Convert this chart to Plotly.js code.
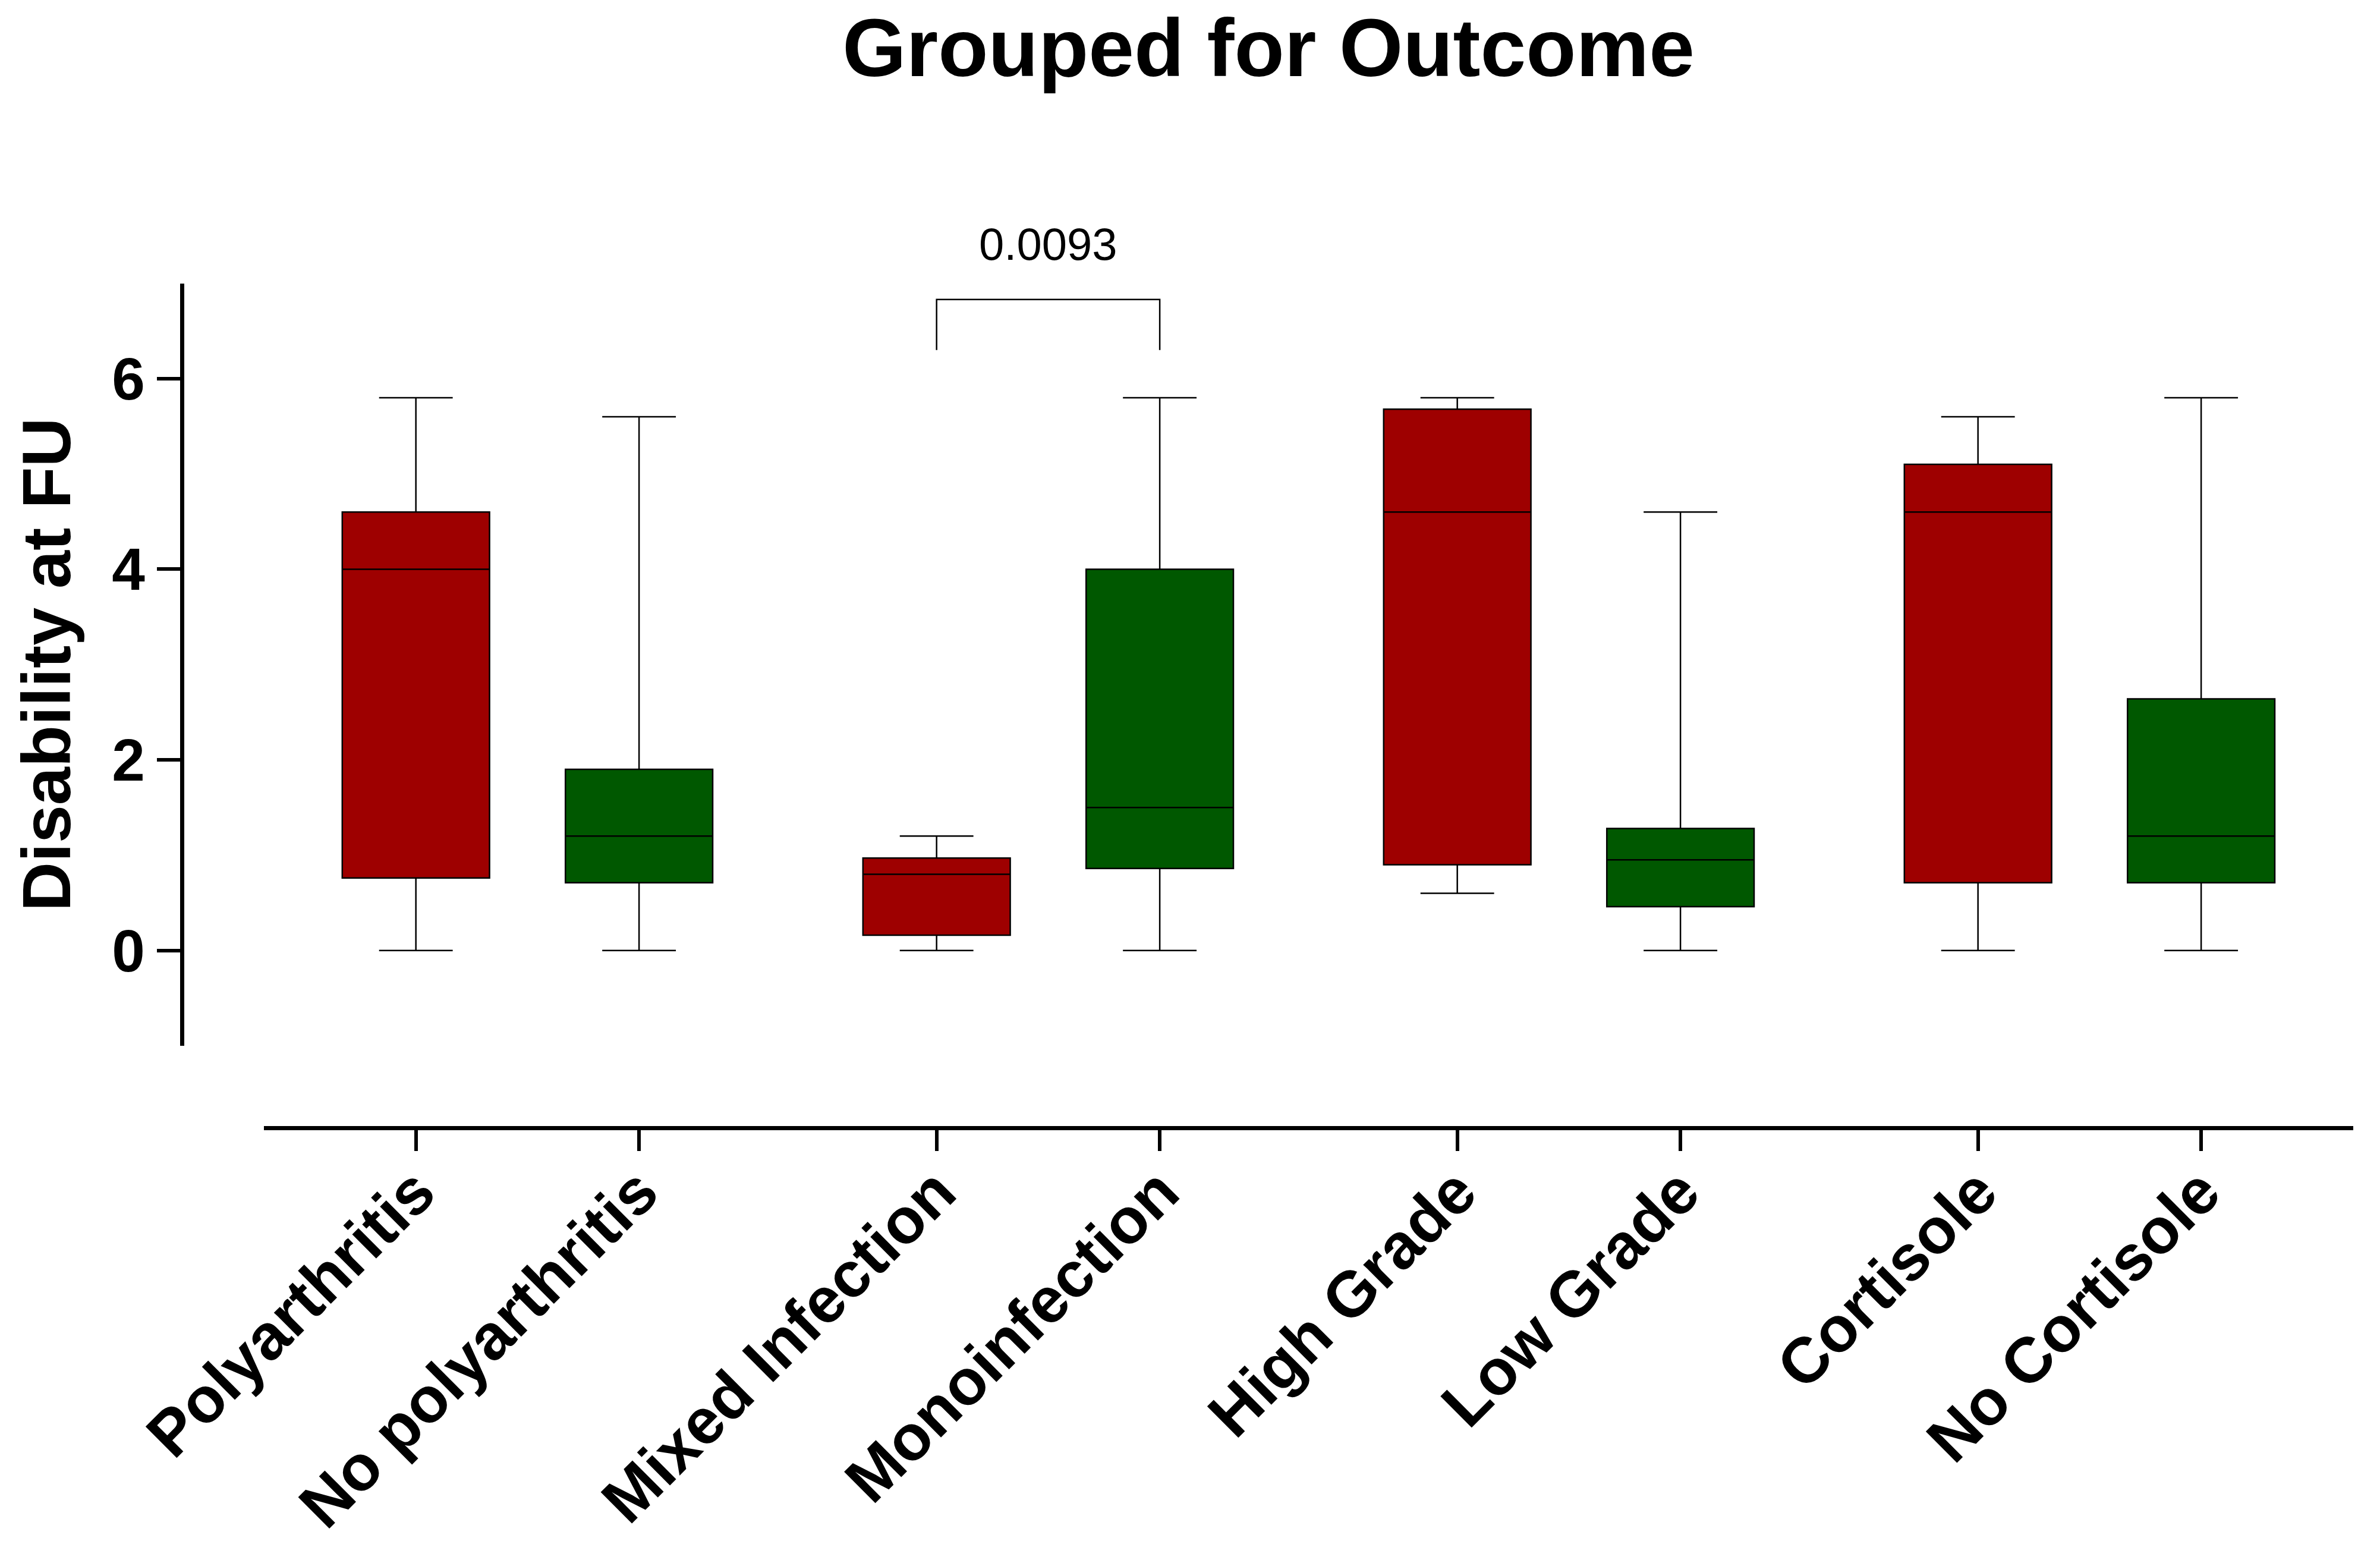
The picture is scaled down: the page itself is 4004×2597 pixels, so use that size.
<!DOCTYPE html>
<html>
<head>
<meta charset="utf-8">
<script src="https://cdn.plot.ly/plotly-3.0.1.min.js"></script>
<style>
html,body{margin:0;padding:0;background:#fff;}
#chart{width:4004px;height:2597px;}
</style>
</head>
<body>
<div id="chart"></div>
<script>
// ---- data ----
const categories = ['Polyarthritis','No polyarthritis','Mixed Infection','Monoinfection','High Grade','Low Grade','Cortisole','No Cortisole'];
const lowerFence = [0, 0, 0, 0, 0.6, 0, 0, 0];
const q1         = [0.76, 0.71, 0.16, 0.86, 0.90, 0.46, 0.71, 0.71];
const median     = [4.0, 1.2, 0.8, 1.5, 4.6, 0.95, 4.6, 1.2];
const q3         = [4.6, 1.9, 0.97, 4.0, 5.68, 1.28, 5.1, 2.64];
const upperFence = [5.8, 5.6, 1.2, 5.8, 5.8, 4.6, 5.6, 5.8];
const yTicks = [0, 2, 4, 6];
const pLabel = '0.0093';
const pPair = [2, 3];          // Mixed Infection vs Monoinfection
const bracketTop = 6.83, bracketLeg = 6.3;

// ---- layout helpers ----
const pairGap = 1/3;
const pos = categories.map((c, i) => i + Math.floor(i / 2) * pairGap);
const RED = '#9E0000', GREEN = '#005800';
const FONT = 'Liberation Sans, Arial, Helvetica, sans-serif';

function pick(arr, parity) { return arr.filter((v, i) => i % 2 === parity); }

function boxTrace(parity, color) {
  return {
    type: 'box',
    x: pick(pos, parity),
    q1: pick(q1, parity),
    median: pick(median, parity),
    q3: pick(q3, parity),
    lowerfence: pick(lowerFence, parity),
    upperfence: pick(upperFence, parity),
    width: 0.66,
    whiskerwidth: 0.5,
    fillcolor: color,
    line: {color: '#000', width: 2.5},
    boxpoints: false,
    hoverinfo: 'skip',
    showlegend: false
  };
}

const data = [boxTrace(0, RED), boxTrace(1, GREEN)];

const xa = pos[pPair[0]], xb = pos[pPair[1]];

const layout = {
  width: 4004, height: 2597,
  paper_bgcolor: '#fff', plot_bgcolor: 'rgba(0,0,0,0)',
  margin: {l: 0, r: 0, t: 0, b: 0, pad: 0},
  showlegend: false,
  title: {
    text: '<b>Grouped for Outcome</b>',
    font: {family: FONT, size: 138, color: '#000'},
    x: 0.533, xanchor: 'center', xref: 'paper',
    y: 0.988, yanchor: 'top', yref: 'container'
  },
  xaxis: {
    domain: [0.1108, 0.9888],
    range: [-0.682, 8.682],
    anchor: 'free', position: 0.2696,
    tickmode: 'array', tickvals: pos, ticktext: categories.map(c => '<b>' + c + '</b>'),
    tickangle: -45,
    tickfont: {family: FONT, size: 108, color: '#000'},
    ticklabelstandoff: -38,
    ticks: 'outside', ticklen: 35, tickwidth: 6, tickcolor: '#000',
    showline: true, linewidth: 7, linecolor: '#000',
    showgrid: false, zeroline: false, automargin: false, fixedrange: true
  },
  yaxis: {
    domain: [0.3227, 0.8165],
    range: [-1, 7],
    anchor: 'free', position: 0.0764,
    tickmode: 'array', tickvals: yTicks, ticktext: yTicks.map(v => '<b>' + v + '</b>'),
    tickfont: {family: FONT, size: 100, color: '#000'},
    ticks: 'outside', ticklen: 39, tickwidth: 6, tickcolor: '#000',
    showline: true, linewidth: 7, linecolor: '#000',
    showgrid: false, zeroline: false, automargin: false, fixedrange: true,
    title: {text: '<b>Disability at FU</b>', font: {family: FONT, size: 115, color: '#000'}, standoff: 30}
  },
  shapes: [{
    type: 'path', xref: 'x', yref: 'y',
    path: `M ${xa},${bracketLeg} L ${xa},${bracketTop} L ${xb},${bracketTop} L ${xb},${bracketLeg}`,
    line: {color: '#000', width: 2.5}
  }],
  annotations: [{
    xref: 'x', yref: 'paper', x: (xa + xb) / 2, y: 0.8420,
    text: pLabel, showarrow: false,
    font: {family: FONT, size: 76, color: '#000'},
    xanchor: 'center', yanchor: 'middle'
  }]
};

Plotly.newPlot('chart', data, layout, {displayModeBar: false, staticPlot: true});
</script>
</body>
</html>
